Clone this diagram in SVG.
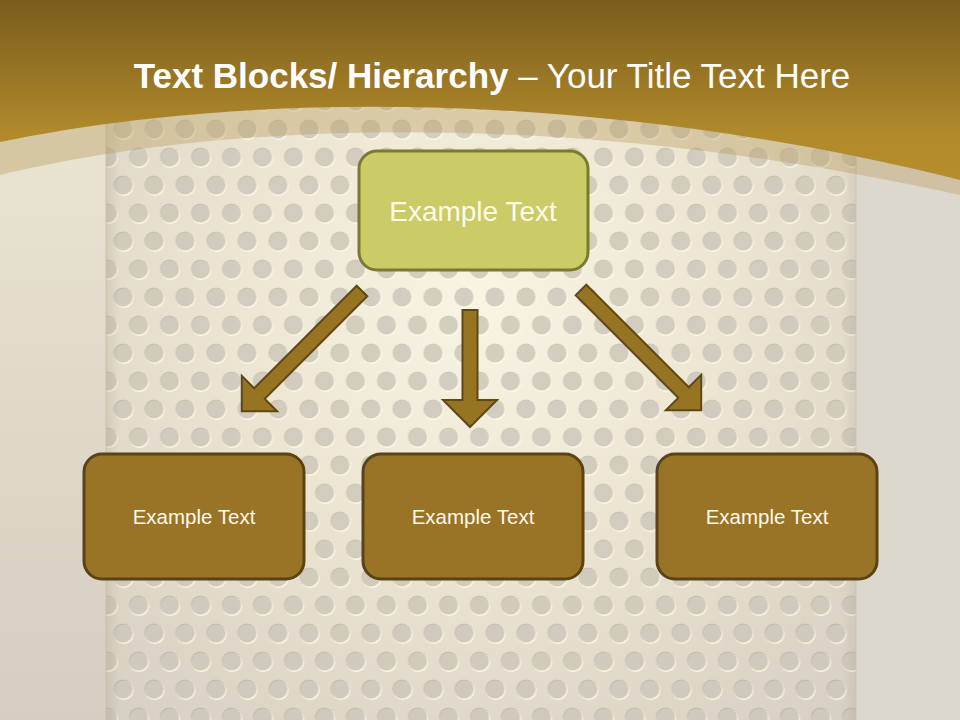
<svg xmlns="http://www.w3.org/2000/svg" width="960" height="720" viewBox="0 0 960 720">
  <defs>
    <linearGradient id="bg" x1="0" y1="0" x2="0" y2="1">
      <stop offset="0" stop-color="#eee8d6"/>
      <stop offset="1" stop-color="#d5cec1"/>
    </linearGradient>
    <radialGradient id="panel" cx="480" cy="300" r="560" gradientUnits="userSpaceOnUse">
      <stop offset="0" stop-color="#f9f4e4"/>
      <stop offset="0.45" stop-color="#ece5d2"/>
      <stop offset="1" stop-color="#d6cfc3"/>
    </radialGradient>
    <linearGradient id="edgeL" x1="0" y1="0" x2="1" y2="0">
      <stop offset="0" stop-color="#a89c80" stop-opacity="0.25"/>
      <stop offset="1" stop-color="#a89c80" stop-opacity="0"/>
    </linearGradient>
    <linearGradient id="edgeR" x1="1" y1="0" x2="0" y2="0">
      <stop offset="0" stop-color="#a89c80" stop-opacity="0.2"/>
      <stop offset="1" stop-color="#a89c80" stop-opacity="0"/>
    </linearGradient>
    <linearGradient id="head" x1="0" y1="0" x2="0" y2="1">
      <stop offset="0" stop-color="#7a5c1e"/>
      <stop offset="0.75" stop-color="#b18a2b"/>
      <stop offset="1" stop-color="#b58d2c"/>
    </linearGradient>
    <pattern id="dots" x="107.5" y="3" width="31" height="56" patternUnits="userSpaceOnUse">
      <circle cx="16.3" cy="15.3" r="9.9" fill="#fffaea" fill-opacity="0.75"/>
      <circle cx="15.5" cy="14" r="9.6" fill="#8e897e" fill-opacity="0.38"/>
      <circle cx="0.8" cy="43.3" r="9.9" fill="#fffaea" fill-opacity="0.75"/>
      <circle cx="0" cy="42" r="9.6" fill="#8e897e" fill-opacity="0.38"/>
      <circle cx="31.8" cy="43.3" r="9.9" fill="#fffaea" fill-opacity="0.75"/>
      <circle cx="31" cy="42" r="9.6" fill="#8e897e" fill-opacity="0.38"/>
    </pattern>
    <style>
      .top { fill: #cbcb68; stroke: #7b7a2e; stroke-width: 3; }
      .bot { fill: #997426; stroke: #5a4315; stroke-width: 3; }
      .arrow { fill: #977422; stroke: #5f4817; stroke-width: 2; stroke-linejoin: miter; }
      .lbl { font-family: "Liberation Sans", Arial, sans-serif; text-anchor: middle; }
      .t1 { font-size: 28px; fill: #fbfbe8; }
      .t2 { font-size: 20.5px; fill: #fdf8e8; }
      .title { font-family: "Liberation Sans", Arial, sans-serif; font-size: 35px; fill: #ffffff; text-anchor: middle; }
    </style>
  </defs>

  <!-- background -->
  <rect x="0" y="0" width="960" height="720" fill="url(#bg)"/>
  <rect x="856" y="0" width="104" height="720" fill="#ddd8cd"/>
  <rect x="106" y="0" width="750" height="720" fill="url(#panel)"/>
  <rect x="106" y="0" width="750" height="720" fill="url(#dots)"/>
  <rect x="106" y="0" width="14" height="720" fill="url(#edgeL)"/>
  <rect x="842" y="0" width="14" height="720" fill="url(#edgeR)"/>
  <line x1="106" y1="0" x2="106" y2="720" stroke="#c9bfa9" stroke-width="1.5" stroke-opacity="0.6"/>
  <line x1="856" y1="0" x2="856" y2="720" stroke="#c9c2b3" stroke-width="1.5" stroke-opacity="0.6"/>

  <!-- header band -->
  <path d="M0,175 C250,115 600,115 960,195 L960,0 L0,0 Z" fill="#b89a5a" fill-opacity="0.38"/>
  <path d="M0,142 C250,90 600,90 960,180 L960,0 L0,0 Z" fill="url(#head)"/>

  <text class="title" x="492" y="88"><tspan font-weight="bold">Text Blocks/ Hierarchy</tspan> – Your Title Text Here</text>

  <!-- connectors -->
  <g id="connectors">
    <path class="arrow" transform="translate(362,291) rotate(45)" d="M-7.5,0 H7.5 V145 H25 L0,170 L-25,145 H-7.5 Z"/>
    <path class="arrow" transform="translate(470,310)" d="M-7.5,0 H7.5 V90 H27 L0,117 L-27,90 H-7.5 Z"/>
    <path class="arrow" transform="translate(581,290) rotate(-45)" d="M-7.5,0 H7.5 V145 H25 L0,170 L-25,145 H-7.5 Z"/>
  </g>

  <!-- nodes -->
  <g id="node-top">
    <rect class="top" x="359" y="151" width="229" height="119" rx="18"/>
    <text class="lbl t1" x="473" y="221">Example Text</text>
  </g>
  <g id="node-left">
    <rect class="bot" x="84" y="454" width="220" height="125" rx="18"/>
    <text class="lbl t2" x="194" y="524">Example Text</text>
  </g>
  <g id="node-middle">
    <rect class="bot" x="363" y="454" width="220" height="125" rx="18"/>
    <text class="lbl t2" x="473" y="524">Example Text</text>
  </g>
  <g id="node-right">
    <rect class="bot" x="657" y="454" width="220" height="125" rx="18"/>
    <text class="lbl t2" x="767" y="524">Example Text</text>
  </g>
</svg>
